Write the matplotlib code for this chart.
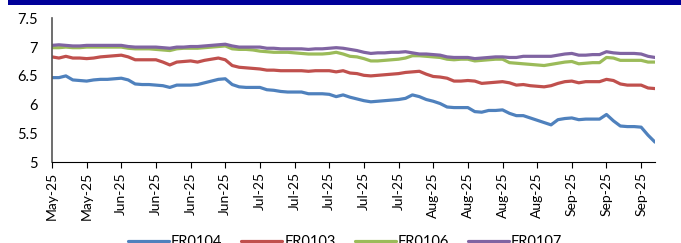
import numpy as np
import matplotlib
matplotlib.use("Agg")
import matplotlib.pyplot as plt
from matplotlib.patches import Rectangle

# tick labels, one every 5 trading days
tick_labels = ["May-25", "May-25", "Jun-25", "Jun-25", "Jun-25", "Jun-25",
               "Jul-25", "Jul-25", "Jul-25", "Jul-25", "Jul-25",
               "Aug-25", "Aug-25", "Aug-25", "Aug-25",
               "Sep-25", "Sep-25", "Sep-25"]

fr0104 = [6.47, 6.47, 6.50, 6.43, 6.42, 6.41, 6.43, 6.44, 6.44, 6.45,
          6.46, 6.43, 6.36, 6.35, 6.35, 6.34, 6.33, 6.30, 6.34, 6.34,
          6.34, 6.35, 6.38, 6.41, 6.44, 6.45, 6.35, 6.31, 6.30, 6.30,
          6.30, 6.26, 6.25, 6.23, 6.22, 6.22, 6.22, 6.19, 6.19, 6.19,
          6.18, 6.14, 6.17, 6.13, 6.10, 6.07, 6.05, 6.06, 6.07, 6.08,
          6.09, 6.11, 6.17, 6.14, 6.09, 6.06, 6.02, 5.96, 5.95, 5.95,
          5.95, 5.88, 5.87, 5.90, 5.90, 5.91, 5.85, 5.81, 5.81, 5.77,
          5.73, 5.69, 5.65, 5.74, 5.76, 5.77, 5.74, 5.75, 5.75, 5.75,
          5.83, 5.72, 5.63, 5.62, 5.62, 5.61, 5.47, 5.35]

fr0103 = [6.83, 6.81, 6.84, 6.81, 6.81, 6.80, 6.81, 6.83, 6.84, 6.85,
          6.86, 6.83, 6.78, 6.78, 6.78, 6.78, 6.74, 6.69, 6.74, 6.75,
          6.76, 6.74, 6.77, 6.79, 6.81, 6.78, 6.68, 6.65, 6.64, 6.63,
          6.62, 6.60, 6.60, 6.59, 6.59, 6.59, 6.59, 6.58, 6.59, 6.59,
          6.59, 6.57, 6.59, 6.55, 6.54, 6.51, 6.50, 6.51, 6.52, 6.53,
          6.54, 6.56, 6.57, 6.58, 6.53, 6.49, 6.48, 6.46, 6.41, 6.41,
          6.42, 6.41, 6.37, 6.38, 6.39, 6.40, 6.38, 6.34, 6.35, 6.33,
          6.32, 6.31, 6.33, 6.37, 6.40, 6.41, 6.38, 6.40, 6.40, 6.40,
          6.44, 6.42, 6.36, 6.34, 6.34, 6.34, 6.29, 6.28]

fr0106 = [6.99, 6.99, 7.00, 6.99, 6.99, 7.00, 7.00, 7.00, 7.00, 7.00,
          7.00, 6.98, 6.97, 6.97, 6.97, 6.96, 6.95, 6.94, 6.97, 6.98,
          6.98, 6.98, 6.99, 7.00, 7.01, 7.02, 6.97, 6.96, 6.96, 6.95,
          6.93, 6.92, 6.91, 6.91, 6.91, 6.90, 6.89, 6.88, 6.88, 6.88,
          6.89, 6.91, 6.88, 6.84, 6.83, 6.80, 6.76, 6.76, 6.77, 6.78,
          6.79, 6.81, 6.85, 6.85, 6.84, 6.83, 6.82, 6.79, 6.78, 6.79,
          6.79, 6.76, 6.77, 6.78, 6.79, 6.79, 6.73, 6.72, 6.71, 6.70,
          6.69, 6.68, 6.70, 6.72, 6.74, 6.75, 6.71, 6.72, 6.73, 6.73,
          6.82, 6.81, 6.77, 6.77, 6.77, 6.77, 6.74, 6.74]

fr0107 = [7.03, 7.04, 7.03, 7.02, 7.02, 7.03, 7.03, 7.03, 7.03, 7.03,
          7.03, 7.01, 7.00, 7.00, 7.00, 7.00, 6.99, 6.98, 7.00, 7.00,
          7.01, 7.01, 7.02, 7.03, 7.04, 7.05, 7.02, 7.00, 7.00, 7.00,
          7.00, 6.98, 6.98, 6.97, 6.97, 6.97, 6.97, 6.96, 6.97, 6.97,
          6.98, 6.99, 6.98, 6.96, 6.94, 6.91, 6.89, 6.90, 6.90, 6.91,
          6.91, 6.92, 6.90, 6.88, 6.88, 6.87, 6.86, 6.83, 6.82, 6.82,
          6.82, 6.80, 6.81, 6.82, 6.83, 6.83, 6.82, 6.82, 6.84, 6.84,
          6.84, 6.84, 6.84, 6.86, 6.88, 6.89, 6.86, 6.86, 6.87, 6.87,
          6.92, 6.90, 6.89, 6.89, 6.89, 6.88, 6.84, 6.82]

series = [("FR0104", fr0104, "#4F81BD"),
          ("FR0103", fr0103, "#C0504D"),
          ("FR0106", fr0106, "#9BBB59"),
          ("FR0107", fr0107, "#8064A2")]

plt.rcParams['font.family'] = ['Lato', 'DejaVu Sans']

fig = plt.figure(figsize=(6.81, 2.43), dpi=100)
ax = fig.add_axes([52 / 681, (243 - 162.3) / 243, (655 - 52) / 681, 144 / 243])

# cropped title banner at the top
fig.patches.append(Rectangle((8 / 681, 0.979), 1, 0.03, transform=fig.transFigure,
                             facecolor='#000099', edgecolor='none'))

x = np.arange(len(fr0104))
for name, vals, color in series:
    ax.plot(x, vals, color=color, linewidth=2.3, label=name, solid_capstyle='round')

ax.set_xlim(0, len(fr0104) - 1)
ax.set_ylim(5, 7.5)
ax.set_yticks([5, 5.5, 6, 6.5, 7, 7.5])
ax.set_yticklabels(["5", "5.5", "6", "6.5", "7", "7.5"])
ax.set_xticks(np.arange(0, 5 * len(tick_labels), 5))
ax.set_xticklabels(tick_labels, rotation=90)

ax.spines['top'].set_visible(False)
ax.spines['right'].set_visible(False)
ax.spines['left'].set_color('#555555')
ax.spines['left'].set_linewidth(1.2)
ax.spines['bottom'].set_color('black')
ax.tick_params(axis='y', length=0, pad=10, labelsize=10.5)
ax.tick_params(axis='x', length=4, direction='out', pad=3, labelsize=10)

fig.legend(loc='center', bbox_to_anchor=(0.507, 0.005), ncol=4, frameon=False,
           fontsize=10.5, handlelength=2.8, handletextpad=0.15, columnspacing=1.3)

fig.savefig("out.png", dpi=100)
